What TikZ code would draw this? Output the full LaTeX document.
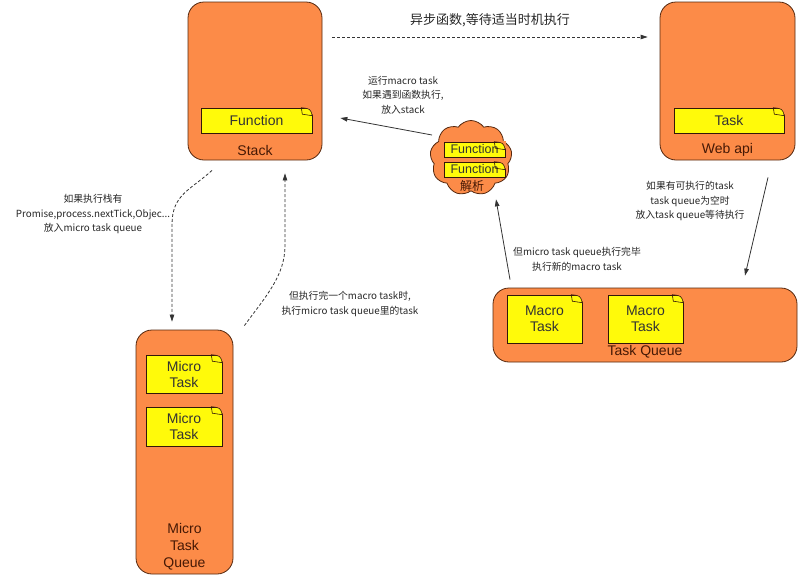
\documentclass[tikz,border=0pt]{standalone}
\usepackage{fontspec}
\setmainfont{Liberation Sans}
\newfontfamily\cjk{Noto Sans CJK SC}
\usetikzlibrary{shapes.symbols,arrows.meta,calc}
\definecolor{boxorange}{RGB}{252,139,72}
\definecolor{noteyellow}{RGB}{255,250,10}
\definecolor{edgebrown}{RGB}{85,40,15}
\definecolor{boxtext}{RGB}{70,25,5}
\tikzset{
  container/.style={draw=edgebrown, line width=0.8pt, fill=boxorange, rounded corners=16pt, inner sep=0pt},
  memo/.style={draw=edgebrown!60!black, line width=0.6pt, fill=noteyellow, inner sep=0pt, font=\fontsize{14}{16}\selectfont, text=black!80, align=center},
  boxlabel/.style={font=\fontsize{14}{17}\selectfont, text=boxtext, align=center, inner sep=0pt},
  lbl/.style={font=\cjk\fontsize{9.8}{14.5}\selectfont, align=center, text=black!85, inner sep=0pt},
  arr/.style={draw=black!80, line width=0.8pt, -{Triangle[length=7pt,width=4.5pt]}},
  darr/.style={arr, dash pattern=on 3pt off 2pt},
}
\newcommand{\notefold}[1]{%
  \fill[boxorange] ([xshift=-11pt,yshift=0.6pt]#1.north east) -- ([xshift=0.6pt,yshift=0.6pt]#1.north east) -- ([xshift=0.6pt,yshift=-8pt]#1.north east) .. controls ([xshift=-2pt,yshift=-1pt]#1.north east) .. ([xshift=-11pt]#1.north east) -- cycle;
  \draw[edgebrown!60!black, line width=0.6pt] ([yshift=-8pt]#1.north east) .. controls ([xshift=-2pt,yshift=-1pt]#1.north east) .. ([xshift=-11pt]#1.north east) -- ([xshift=-10pt,yshift=-6.5pt]#1.north east) -- ([yshift=-8pt]#1.north east);
}
\begin{document}
\begin{tikzpicture}[x=1pt,y=-1pt]
\useasboundingbox (0,0) rectangle (800,576);

% containers
\node[container, minimum width=134pt, minimum height=158pt] (stack) at (255,81) {};
\node[container, minimum width=135pt, minimum height=158pt] (webapi) at (727.5,81) {};
\node[container, minimum width=304pt, minimum height=74pt] (taskq) at (645,325) {};
\node[container, minimum width=97pt, minimum height=244pt] (microq) at (184.5,452) {};
\node[cloud, cloud puffs=9, cloud puff arc=110, aspect=1.05, draw=edgebrown, line width=0.8pt, fill=boxorange, minimum width=82pt, minimum height=75pt, inner sep=0pt] (cloud) at (471,158) {};

% container labels
\node[boxlabel] (stacklbl) at (255,150) {Stack};
\node[boxlabel] (weblbl) at (727.5,150) {Web api};
\node[boxlabel] (tqlbl) at (645,352) {Task Queue};
\node[boxlabel] (mqlbl) at (184.5,547) {Micro\\Task\\Queue};
\node[boxlabel, font=\cjk\fontsize{12}{14}\selectfont] (cloudlbl) at (472,186) {解析};

% notes
\node[memo, minimum width=111pt, minimum height=25pt] (fn) at (256.5,120.5) {Function};
\notefold{fn}
\node[memo, minimum width=110pt, minimum height=25pt] (task) at (729,120.5) {Task};
\notefold{task}
\node[memo, minimum width=61pt, minimum height=15pt, font=\fontsize{12.5}{14}\selectfont] (cf1) at (474.5,149.5) {Function};
\notefold{cf1}
\node[memo, minimum width=61pt, minimum height=15pt, font=\fontsize{12.5}{14}\selectfont] (cf2) at (474.5,169.5) {Function};
\notefold{cf2}
\node[memo, minimum width=75pt, minimum height=48pt] (mt1) at (544.5,319) {Macro\\Task};
\notefold{mt1}
\node[memo, minimum width=75pt, minimum height=48pt] (mt2) at (645.5,319) {Macro\\Task};
\notefold{mt2}
\node[memo, minimum width=76pt, minimum height=38pt] (mi1) at (184,374) {Micro\\Task};
\notefold{mi1}
\node[memo, minimum width=76pt, minimum height=39pt] (mi2) at (184,426.5) {Micro\\Task};
\notefold{mi2}

% connectors
\draw[darr] ($(stack.east)+(10,-44)$) -- ($(webapi.west)+(-12,-44)$);
\draw[arr] ($(cloud.center)+(-39,-23)$) -- ($(stack.east)+(18,37)$);
\draw[arr] ($(webapi.south)+(40.5,17)$) -- ($(taskq.north)+(100,-12)$);
\draw[arr] ($(taskq.north)+(-135,-8)$) -- ($(cloud.south)+(25,8)$);
\draw[darr] ($(stack.south)+(-43,10)$) .. controls +(-22,20) and +(0,-30) .. ($(microq.north)+(-12.5,-105)$) -- ($(microq.north)+(-12.5,-8)$);
\draw[darr] ($(microq.north east)+(11,-4)$) .. controls +(22,-30) and +(0,30) .. ($(stack.south)+(30,85)$) -- ($(stack.south)+(30,13)$);

% labels
\node[lbl, font=\cjk\fontsize{13}{16}\selectfont] (t1) at (490,20) {异步函数,等待适当时机执行};
\node[lbl] (t2) at (403,95) {运行macro task\\如果遇到函数执行,\\放入stack};
\node[lbl] (t3) at (93,214) {如果执行栈有\\Promise,process.nextTick,Objec...\\放入micro task queue};
\node[lbl] (t4) at (350,304) {但执行完一个macro task时,\\执行micro task queue里的task};
\node[lbl] (t5) at (690,201) {如果有可执行的task\\task queue为空时\\放入task queue等待执行};
\node[lbl] (t6) at (577,259) {但micro task queue执行完毕\\执行新的macro task};
\end{tikzpicture}
\end{document}
